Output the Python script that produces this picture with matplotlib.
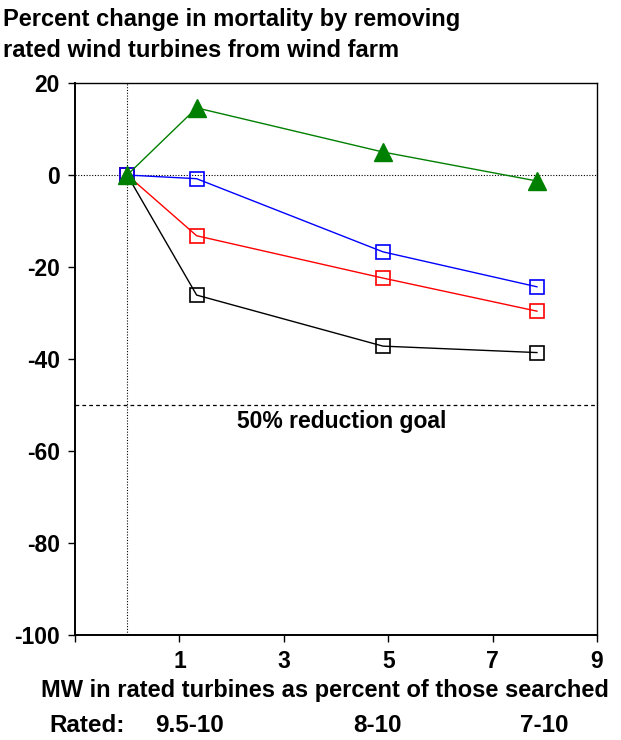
import matplotlib
matplotlib.use("Agg")
import matplotlib.pyplot as plt

plt.rcParams['font.family'] = ['Liberation Sans', 'DejaVu Sans']
plt.rcParams['font.weight'] = 'bold'
plt.rcParams['axes.unicode_minus'] = False

x_vals = [0, 1.33, 4.9, 7.85]
green = [0, 14.6, 5.0, -1.3]
blue = [0, -0.8, -16.7, -24.3]
red = [0, -13.2, -22.4, -29.6]
black = [0, -26.1, -37.2, -38.6]
goal = -50
x_ticks = [-1, 1, 3, 5, 7, 9]
x_tick_labels = ['', '1', '3', '5', '7', '9']
y_ticks = [20, 0, -20, -40, -60, -80, -100]
rated_labels = ['Rated:', '9.5-10', '8-10', '7-10']

fig = plt.figure(figsize=(6.21, 7.40), dpi=100)
ax = fig.add_axes([0.1208, 0.1419, 0.8405, 0.7459])
ax.set_xlim(-1, 9)
ax.set_ylim(-100, 20)

ax.axhline(0, color='black', lw=0.8, ls=(0, (1, 1.5)), zorder=1)
ax.axvline(0, color='black', lw=0.8, ls=(0, (1, 1.5)), zorder=1)
ax.axhline(goal, color='black', lw=0.9, ls=(0, (3, 2.5)), zorder=1)
ax.text(4.1, goal - 1.0, '50% reduction goal', ha='center', va='top', fontsize=16.5, fontweight='bold')

ax.plot(x_vals, black, color='black', lw=1, marker='s', ms=10, mfc='none', mec='black', mew=1.2, zorder=3)
ax.plot(x_vals, red, color='red', lw=1, marker='s', ms=10, mfc='none', mec='red', mew=1.2, zorder=3)
ax.plot(x_vals, blue, color='blue', lw=1, marker='s', ms=10, mfc='none', mec='blue', mew=1.2, zorder=4)
ax.plot(x_vals, green, color='green', lw=1, marker='^', ms=12.5, mfc='green', mec='green', zorder=5)

ax.set_xticks(x_ticks)
ax.set_xticklabels(x_tick_labels)
ax.set_yticks(y_ticks)
ax.tick_params(direction='out', length=5, width=1, labelsize=16.5)
ax.tick_params(axis='x', pad=6)
ax.tick_params(axis='y', pad=6)
for lbl in ax.get_xticklabels() + ax.get_yticklabels():
    lbl.set_fontweight('bold')
for s in ax.spines.values():
    s.set_linewidth(1)
ax.spines['left'].set_linewidth(1.4)
ax.spines['bottom'].set_linewidth(1.4)

fig.text(325 / 621, 1 - 690 / 740, 'MW in rated turbines as percent of those searched',
         ha='center', va='center', fontsize=17, fontweight='bold')

fig.text(0.005, 1 - 8 / 740, 'Percent change in mortality by removing\nrated wind turbines from wind farm',
         ha='left', va='top', fontsize=17, fontweight='bold', linespacing=1.42)

rated_x = [0.141, 0.305, 0.608, 0.877]
for xx, t in zip(rated_x, rated_labels):
    fig.text(xx, 1 - 725 / 740, t, ha='center', va='center', fontsize=17.5, fontweight='bold')

fig.savefig('out.png', dpi=100)
